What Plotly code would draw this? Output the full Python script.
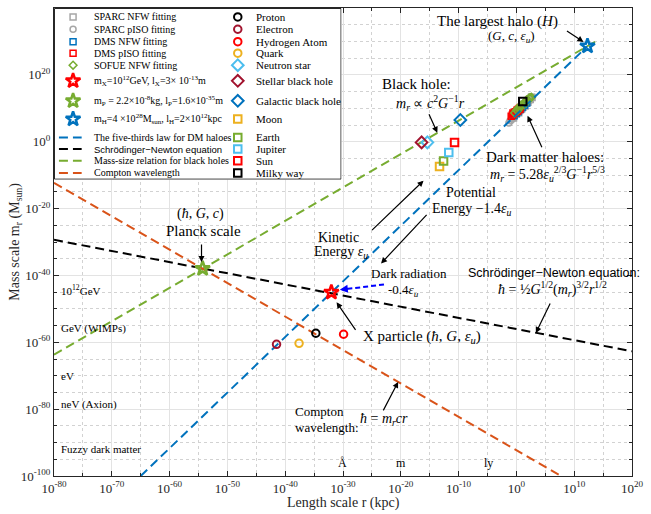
import plotly.graph_objects as go

# ---------------- unit conversions ----------------
KPC_M = 3.0857e19      # metres per kpc
MSUN_KG = 1.989e30     # kg per solar mass
GEV_KG = 1.783e-27     # kg per GeV/c^2

# ---------------- characteristic scales (legend values) ----------------
mX_GeV, lX_m = 1e12, 3e-13          # X particle
mP_kg, lP_m = 2.2e-8, 1.6e-35       # Planck scale
mH_Msun, lH_kpc = 4e28, 2e12        # largest halo

star_names = ["X", "P", "H"]
star_r = [lX_m / KPC_M, lP_m / KPC_M, lH_kpc]
star_m = [mX_GeV * GEV_KG / MSUN_KG, mP_kg / MSUN_KG, mH_Msun]

# ---------------- scaling relations (end points, r in kpc, m in Msun) ----------------
five_thirds_r = [1e-65, 2e12]
five_thirds_m = [1e-100, 4e28]
sn_r = [1e-80, 1e20]
sn_m = [10.0 ** -29.35, 10.0 ** -62.7]
bh_r = [1e-80, 10.0 ** 13.8]
bh_m = [10.0 ** -63.7, 10.0 ** 30.1]
compton_r = [1e-80, 10.0 ** 7.7]
compton_m = [10.0 ** -12.3, 1e-100]

# ---------------- dark matter halo fits (log10 r [kpc], log10 m [Msun]) ----------------
sparc_nfw_logr = [-0.8, -0.5, -0.2, 0.0, 0.2, 0.4, 0.5, 0.7, 0.9, 1.0, 1.2, 1.4, 1.5, 1.7, 1.9, 2.0, 2.2, 2.4, 2.6, 2.7]
sparc_nfw_logm = [7.1, 7.1, 8.3, 8.2, 9.0, 8.7, 9.3, 10.1, 9.8, 10.5, 10.4, 11.3, 10.7, 11.5, 12.3, 11.8, 12.6, 12.6, 13.3, 13.2]
sparc_piso_logr = [-1.3, -1.1, -0.9, -0.7, -0.5, -0.3, -0.1, 0.1, 0.3, 0.6, 0.8, 1.1, 1.3, 1.6, 1.8, 2.1, 2.3]
sparc_piso_logm = [5.6, 6.3, 6.4, 7.1, 7.2, 7.9, 7.9, 8.7, 8.7, 9.6, 9.6, 10.5, 10.6, 11.5, 11.5, 12.4, 12.4]
dms_nfw_logr = [-0.4, 0.0, 0.3, 0.7, 1.0, 1.4, 1.8]
dms_nfw_logm = [7.8, 8.5, 9.0, 9.6, 10.2, 10.9, 11.6]
dms_piso_logr = [-0.9, -0.7, -0.5, -0.3, -0.1, 0.1, 0.3, 0.5, 0.7, -0.6, 0.2, 0.6]
dms_piso_logm = [7.6, 8.0, 8.4, 8.8, 9.0, 9.4, 9.6, 9.9, 10.2, 8.6, 9.1, 9.6]
sofue_logr = [-0.3, 0.0, 0.2, 0.4, 0.6, 0.8, 1.0, 1.2, 1.4, 1.6, 1.8, 2.0, 2.2, 2.4, 2.6]
sofue_logm = [8.6, 9.4, 9.3, 10.2, 10.2, 10.9, 10.8, 11.4, 11.3, 12.0, 12.5, 12.4, 13.1, 13.2, 13.3]

# ---------------- physical objects (log10 r [kpc], log10 m [Msun]) ----------------
object_names = ["Proton", "Electron", "Hydrogen Atom", "Quark", "Neutron star", "Stellar black hole",
                "Galactic black hole", "Moon", "Earth", "Jupiter", "Sun", "Milky way"]
object_logr = [-34.7, -41.5, -29.9, -37.6, -15.4, -16.4, -9.7, -13.3, -12.6, -11.7, -10.7, 1.1]
object_logm = [-57.3, -60.6, -57.6, -60.3, -0.2, -0.2, 6.5, -7.4, -5.8, -3.2, -0.2, 12.0]
object_symbols = ["circle-open", "circle-open", "circle-open", "circle-open", "diamond-open", "diamond-open",
                  "diamond-open", "square-open", "square-open", "square-open", "square-open", "square-open"]
object_colors = ["#000000", "#A2142F", "#FF0000", "#EDB120", "#4DBEEE", "#A2142F",
                 "#0072BD", "#EDB120", "#77AC30", "#4DBEEE", "#FF0000", "#000000"]

# ---------------- axis ticks (decades) ----------------
x_major = list(range(-80, 21, 10))
x_minor = list(range(-75, 20, 10))
y_major = list(range(-100, 41, 20))
y_minor = [k for k in range(-95, 40, 5) if k % 20 != 0]

SERIF = "Liberation Serif"
SANS = "Liberation Sans"
AX = "#262626"
BLUE, BLACK, GREEN, ORANGE = "#0072BD", "#000000", "#77AC30", "#D95319"
GRAY = "#A6A6A6"
DASH = "9px,5px"
STAR_SIZE = 11


def pw(v):
    return [10.0 ** x for x in v]


fig = go.Figure()

# halo fits
halo_series = [
    ("SPARC NFW fitting", sparc_nfw_logr, sparc_nfw_logm, "square-open", GRAY),
    ("SPARC pISO fitting", sparc_piso_logr, sparc_piso_logm, "circle-open", GRAY),
    ("DMS NFW fitting", dms_nfw_logr, dms_nfw_logm, "square-open", BLUE),
    ("DMS pISO fitting", dms_piso_logr, dms_piso_logm, "square-open", "#FF0000"),
    ("SOFUE NFW fitting", sofue_logr, sofue_logm, "diamond-open", GREEN),
]
for name, lr, lm, sym, col in halo_series:
    fig.add_trace(go.Scatter(x=pw(lr), y=pw(lm), mode="markers", name=name, showlegend=False,
                             marker=dict(symbol=sym, size=6, color=col, line=dict(width=1.5, color=col))))

# scaling relations
relations = [
    ("The five-thirds law for DM haloes", five_thirds_r, five_thirds_m, BLUE),
    ("Schrödinger−Newton equation", sn_r, sn_m, BLACK),
    ("Mass-size relation for black holes", bh_r, bh_m, GREEN),
    ("Compton wavelength", compton_r, compton_m, ORANGE),
]
for name, xr, ym, col in relations:
    fig.add_trace(go.Scatter(x=xr, y=ym, mode="lines", name=name, showlegend=False,
                             line=dict(color=col, width=2, dash=DASH)))

# physical objects
for nm, lr, lm, sym, col in zip(object_names, object_logr, object_logm, object_symbols, object_colors):
    sz = 9 if sym.startswith("diamond") else 7.5
    fig.add_trace(go.Scatter(x=[10.0 ** lr], y=[10.0 ** lm], mode="markers", name=nm, showlegend=False,
                             marker=dict(symbol=sym, size=sz, color=col, line=dict(width=2, color=col))))

# characteristic scales
star_colors = ["#FF0000", GREEN, BLUE]
for nm, r, m, col in zip(star_names, star_r, star_m, star_colors):
    fig.add_trace(go.Scatter(x=[r], y=[m], mode="markers", name=nm, showlegend=False,
                             marker=dict(symbol="star-open", size=STAR_SIZE, color=col,
                                         line=dict(width=2.5, color=col))))

# ---------------- legend panel (drawn on a hidden overlay subplot, px units) ----------------
BOX_W, BOX_H = 291, 172
fig.add_trace(go.Scatter(x=[0.5, BOX_W - 0.5, BOX_W - 0.5, 0.5, 0.5], y=[0.5, 0.5, BOX_H - 0.5, BOX_H - 0.5, 0.5],
                         xaxis="x2", yaxis="y2", mode="lines", fill="toself", fillcolor="white",
                         line=dict(color=AX, width=1), showlegend=False, hoverinfo="skip"))

rows = [9, 21.3, 33.7, 45.3, 57.3, 73, 93, 111.3, 129.7, 141.3, 153, 165.3]
col1_entries = [(s[0], "marker", s[3], s[4], 6) for s in halo_series]
col1_entries += [
    ("m<sub>X</sub>=10<sup>12</sup>GeV, l<sub>X</sub>=3× 10<sup>-13</sup>m", "marker", "star-open", "#FF0000", STAR_SIZE),
    ("m<sub>P</sub> = 2.2×10<sup>-8</sup>kg, l<sub>P</sub>=1.6×10<sup>-35</sup>m", "marker", "star-open", GREEN, STAR_SIZE),
    ("m<sub>H</sub>=4 ×10<sup>28</sup>M<sub>sun</sub>, l<sub>H</sub>=2×10<sup>12</sup>kpc", "marker", "star-open", BLUE, STAR_SIZE),
]
col1_entries += [(r[0], "line", None, r[3], None) for r in relations]

annotations = []
for (label_text, kind, sym, col, size), yy in zip(col1_entries, rows):
    if kind == "marker":
        lw = 2.5 if sym == "star-open" else 1.5
        fig.add_trace(go.Scatter(x=[19.3], y=[yy], xaxis="x2", yaxis="y2", mode="markers", showlegend=False,
                                 marker=dict(symbol=sym, size=size, color=col, line=dict(width=lw, color=col)),
                                 hoverinfo="skip"))
    else:
        fig.add_trace(go.Scatter(x=[5, 28], y=[yy, yy], xaxis="x2", yaxis="y2", mode="lines", showlegend=False,
                                 line=dict(color=col, width=2, dash=DASH), hoverinfo="skip"))
    fam = SANS if label_text.startswith("Schr") else SERIF
    fsz = 9.5 if fam == SANS else 10
    annotations.append(dict(x=38.7, y=yy, xref="x2", yref="y2", text=label_text, showarrow=False,
                            xanchor="left", yanchor="middle", font=dict(family=fam, size=fsz, color="black")))

for nm, sym, col, yy in zip(object_names, object_symbols, object_colors, rows):
    sz = 9 if sym.startswith("diamond") else 7.5
    fig.add_trace(go.Scatter(x=[186], y=[yy], xaxis="x2", yaxis="y2", mode="markers", showlegend=False,
                             marker=dict(symbol=sym, size=sz, color=col, line=dict(width=2, color=col)),
                             hoverinfo="skip"))
    annotations.append(dict(x=202, y=yy, xref="x2", yref="y2", text=nm, showarrow=False,
                            xanchor="left", yanchor="middle", font=dict(family=SERIF, size=11, color="black")))


# ---------------- text labels (positions in log10 units) ----------------
def label(x, y, text, size=14, fam=SERIF, anchor="center"):
    annotations.append(dict(x=x, y=y, xref="x", yref="y", text=text, showarrow=False,
                            xanchor=anchor, yanchor="middle", font=dict(family=fam, size=size, color="black")))


def arrow(x, y, ax, ay, color="black", width=1.2, size=1.0):
    annotations.append(dict(x=x, y=y, xref="x", yref="y", ax=ax, ay=ay, text="", showarrow=True,
                            arrowhead=2, arrowsize=size, arrowwidth=width, arrowcolor=color, standoff=0))


label(-3.33, 35.9, "The largest halo (<i>H</i>)", 15)
label(-0.85, 31.6, "(<i>G</i>, <i>c</i>, <i>ε<sub>u</sub></i>)", 13)
arrow(11.6, 29.85, -18, -12)

label(-17.26, 17.3, "Black hole:", 15)
label(-14.87, 11.6, "<i>m<sub>r</sub></i> ∝ <i>c</i><sup>2</sup><i>G</i><sup>−1</sup><i>r</i>", 14)
arrow(-13.68, 2.69, -9, -20)

label(4.96, -4.7, "Dark matter haloes:", 15)
label(5.3, -9.6, "<i>m<sub>r</sub></i> = 5.28<i>ε<sub>u</sub></i><sup>2/3</sup><i>G</i><sup>−1</sup><i>r</i><sup>5/3</sup>", 14)
arrow(1.93, 7.76, 15, 33)

label(-7.86, -15.2, "Potential", 14)
label(-7.69, -20.3, "Energy −1.4<i>ε<sub>u</sub></i>", 14)
label(-30.77, -28.66, "Kinetic", 14)
label(-30.43, -33.1, "Energy <i>ε<sub>u</sub></i>", 14)
arrow(-16.07, -11.64, -53, 51)
arrow(-23.42, -36.42, 47, -50)

label(-18.63, -39.3, "Dark radiation", 13)
label(-19.57, -44.4, "-0.4<i>ε<sub>u</sub></i>", 13)
arrow(-30.55, -44.27, 14, -1.5, color="#0000FF", width=2, size=0.8)

label(-54.7, -21.5, "(<i>ħ</i>, <i>G</i>, <i>c</i>)", 14)
label(-54.19, -26.6, "Planck scale", 15)
arrow(-54.48, -36.0, 0, -19)

label(-26.84, -58.5, "X particle (<i>ħ</i>, <i>G</i>, <i>ε<sub>u</sub></i>)", 15, anchor="left")
arrow(-31.11, -48.06, 20, 29)

label(6.5, -39.2, "Schrödinger−Newton equation:", 12.5, fam=SANS)
label(6.32, -44.0, "<i>ħ</i> = ½<i>G</i><sup>1/2</sup>(<i>m<sub>r</sub></i>)<sup>3/2</sup><i>r</i><sup>1/2</sup>", 14)
arrow(3.37, -57.22, 15, -31)

label(-38.63, -80.6, "Compton", 13, anchor="left")
label(-38.63, -85.4, "wavelength:", 13, anchor="left")
label(-27.4, -83.0, "<i>ħ</i> = <i>m<sub>r</sub>cr</i>", 14, anchor="left")
arrow(-20.46, -71.85, -15.6, 30)

for yy, txt in [(-44.5, "10<sup>12</sup>GeV"), (-55.8, "GeV (WIMPs)"), (-70.15, "eV"),
                (-78.5, "neV (Axion)"), (-91.9, "Fuzzy dark matter")]:
    label(-79.06, yy, txt, 11, anchor="left")

for xx, txt in [(-30.1, "Å"), (-20.0, "m"), (-4.8, "ly")]:
    label(xx, -96.1, txt, 12)

# axis titles
annotations.append(dict(x=0.5, y=-0.058, xref="paper", yref="paper", text="Length scale r (kpc)",
                        showarrow=False, xanchor="center", yanchor="middle",
                        font=dict(family=SERIF, size=14, color=AX)))
annotations.append(dict(x=-0.068, y=0.5, xref="paper", yref="paper", textangle=-90,
                        text="Mass scale m<sub>r</sub> (M<sub>sun</sub>)",
                        showarrow=False, xanchor="center", yanchor="middle",
                        font=dict(family=SERIF, size=14, color=AX)))

# dashed body of the dark-radiation arrow (plot-area fractions)
shapes = [dict(type="line", xref="paper", yref="paper", x0=0.5709, y0=0.4094, x1=0.5162, y1=0.4009,
               line=dict(color="#0000FF", width=2, dash="5px,3px"), layer="above")]


def exp_text(k):
    return "10<sup>%d</sup>" % k


axis_common = dict(type="log", showline=True, linecolor=AX, linewidth=1, mirror="allticks",
                   ticks="inside", ticklen=5, tickcolor=AX, tickwidth=1, showgrid=True,
                   gridcolor="#E3E3E3", gridwidth=1, zeroline=False,
                   tickfont=dict(family=SERIF, size=13, color=AX))

fig.update_layout(
    width=651, height=514,
    margin=dict(l=54, r=12, t=7, b=38),
    paper_bgcolor="white", plot_bgcolor="white",
    showlegend=False,
    xaxis=dict(axis_common, range=[-80, 20], tickmode="array",
               tickvals=[10.0 ** k for k in x_major], ticktext=[exp_text(k) for k in x_major],
               minor=dict(tickmode="array", tickvals=[10.0 ** k for k in x_minor], ticks="inside", ticklen=3,
                          tickcolor=AX, showgrid=True, gridcolor="#D2D2D2", griddash="dot", gridwidth=1)),
    yaxis=dict(axis_common, range=[-100, 40], tickmode="array",
               tickvals=[10.0 ** k for k in y_major], ticktext=[exp_text(k) for k in y_major],
               minor=dict(tickmode="array", tickvals=[10.0 ** k for k in y_minor], ticks="inside", ticklen=3,
                          tickcolor=AX, showgrid=True, gridcolor="#D2D2D2", griddash="dot", gridwidth=1)),
    xaxis2=dict(domain=[0, BOX_W / 585], range=[0, BOX_W], anchor="y2", visible=False, fixedrange=True),
    yaxis2=dict(domain=[1 - BOX_H / 469, 1], range=[BOX_H, 0], anchor="x2", visible=False, fixedrange=True),
    annotations=annotations,
    shapes=shapes,
)

fig.write_html("out.html")
